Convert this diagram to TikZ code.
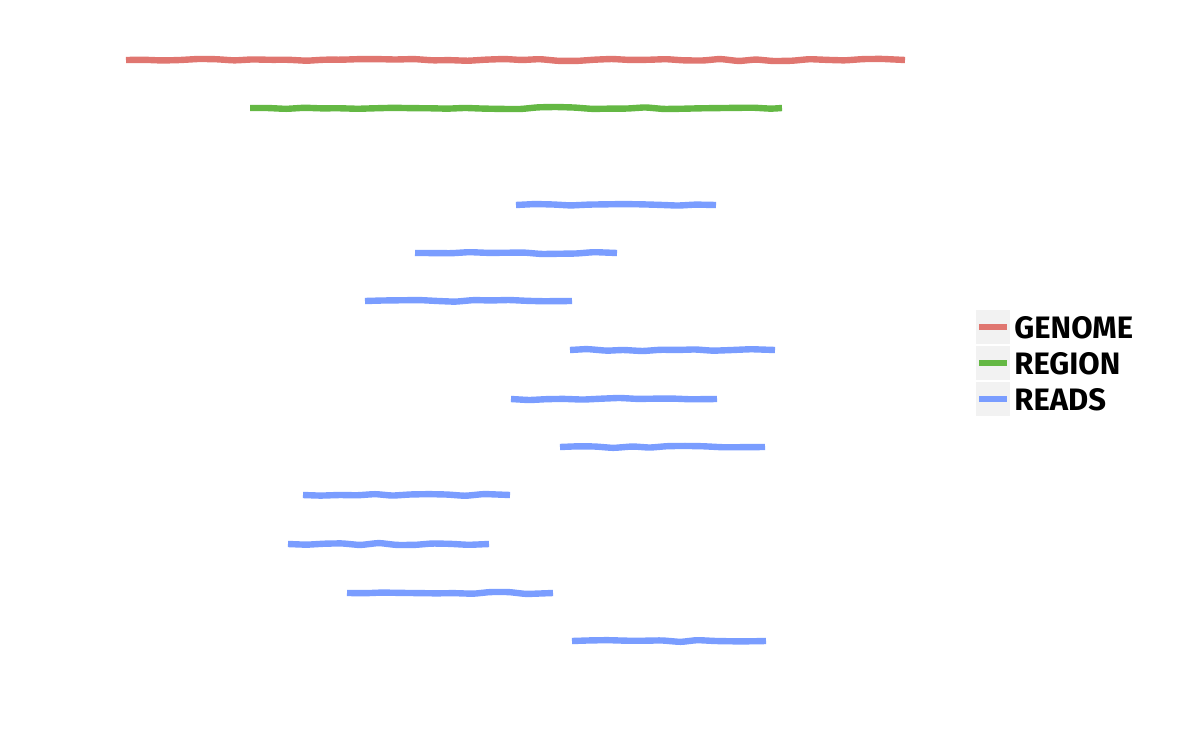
\documentclass[tikz,border=0pt]{standalone}
\usepackage{fontspec}
\setmainfont{Fira Sans}
\usetikzlibrary{decorations.pathmorphing}
\definecolor{genomec}{RGB}{224,118,112}
\definecolor{regionc}{RGB}{100,184,68}
\definecolor{readc}{RGB}{122,157,255}
\definecolor{keybg}{RGB}{242,242,242}
\tikzset{
  wig/.style={line width=3.2pt, line cap=butt, rounded corners=1.5pt, decorate,
    decoration={random steps, segment length=9pt, amplitude=0.55pt}},
  genomeline/.style={wig, draw=genomec},
  regionline/.style={wig, draw=regionc},
  readline/.style={wig, draw=readc},
  keybox/.style={fill=keybg, draw=none},
  keytext/.style={anchor=west, inner sep=0pt, font=\fontsize{15.5}{15.5}\selectfont\bfseries}
}
\begin{document}
\begin{tikzpicture}[x=0.5pt, y=-0.5pt]
\pgfmathsetseed{7}
\useasboundingbox (0,0) rectangle (1200,750);
% genome and region
\draw[genomeline] (126,60) -- (905,60);
\draw[regionline] (250,108) -- (782,108);
% reads
\draw[readline] (516,205) -- (716,205);
\draw[readline] (415,253) -- (617,253);
\draw[readline] (365,301) -- (572,301);
\draw[readline] (570,350) -- (775,350);
\draw[readline] (511,399) -- (717,399);
\draw[readline] (560,447) -- (765,447);
\draw[readline] (303,495) -- (510,495);
\draw[readline] (288,544) -- (489,544);
\draw[readline] (347,593) -- (553,593);
\draw[readline] (572,641) -- (766,641);
% legend
\fill[keybox] (976,310) rectangle (1010,344);
\fill[keybox] (976,346) rectangle (1010,380);
\fill[keybox] (976,382) rectangle (1010,416);
\draw[line width=3pt, draw=genomec] (979,327) -- (1007,327);
\draw[line width=3pt, draw=regionc] (979,363) -- (1007,363);
\draw[line width=3pt, draw=readc] (979,399) -- (1007,399);
\node[keytext] (kg) at (1014,328) {GENOME};
\node[keytext] (kr) at (1014,364) {REGION};
\node[keytext] (kd) at (1014,400) {READS};
\end{tikzpicture}
\end{document}
